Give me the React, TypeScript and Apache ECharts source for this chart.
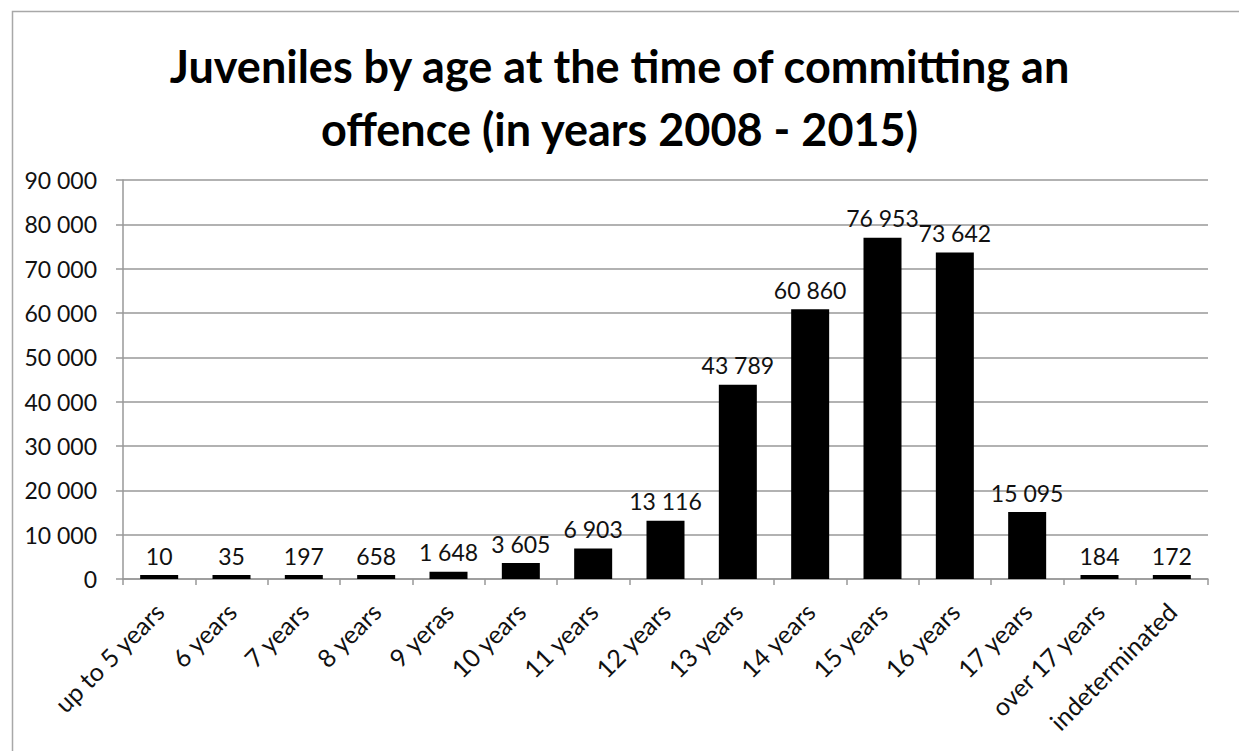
import React, { useEffect, useRef } from "react";
import * as echarts from "echarts";

const categories = [
  "up to 5 years", "6 years", "7 years", "8 years", "9 yeras", "10 years", "11 years",
  "12 years", "13 years", "14 years", "15 years", "16 years", "17 years", "over 17 years", "indeterminated",
];
const values = [10, 35, 197, 658, 1648, 3605, 6903, 13116, 43789, 60860, 76953, 73642, 15095, 184, 172];
const titleLines = ["Juveniles by age at the time of committing an", "offence (in years 2008 - 2015)"];

const fmt = (v: number) => String(Math.round(v)).replace(/\B(?=(\d{3})+(?!\d))/g, " ");

export default function App() {
  const ref = useRef<HTMLDivElement>(null);
  useEffect(() => {
    document.body.style.margin = "0";
    const chart = echarts.init(ref.current!, null, { renderer: "svg" });
    const font = "Lato, 'Open Sans', sans-serif";
    chart.setOption({
      animation: false,
      backgroundColor: "#fff",
      title: {
        text: titleLines.join("\n"),
        left: "center",
        top: 29,
        textStyle: { fontFamily: font, fontWeight: "bold", fontSize: 45, lineHeight: 63, color: "#000" },
      },
      graphic: [
        {
          type: "rect",
          left: 10,
          top: 9,
          shape: { width: 1300, height: 800 },
          style: { fill: "none", stroke: "#a8a8a8", lineWidth: 1.5 },
          silent: true,
        },
      ],
      grid: { left: 123, right: 31, top: 180, bottom: 172, containLabel: false },
      xAxis: {
        type: "category",
        data: categories,
        axisLine: { lineStyle: { color: "#999", width: 1.5 } },
        axisTick: { show: true, length: 6, alignWithLabel: false, lineStyle: { color: "#999", width: 1.5 } },
        axisLabel: {
          rotate: 45,
          interval: 0,
          margin: 28,
          fontFamily: font,
          fontSize: 25,
          color: "#111",
        },
      },
      yAxis: {
        type: "value",
        min: 0,
        max: 90000,
        interval: 10000,
        axisLine: { show: true, lineStyle: { color: "#999", width: 1.5 } },
        axisTick: { show: true, length: 7, lineStyle: { color: "#999", width: 1.5 } },
        splitLine: { lineStyle: { color: "#999", width: 1.5 } },
        axisLabel: {
          formatter: (v: number) => fmt(v),
          margin: 26,
          fontFamily: font,
          fontSize: 23,
          color: "#111",
        },
      },
      series: [
        {
          type: "bar",
          data: values,
          barWidth: 38,
          barMinHeight: 4,
          itemStyle: { color: "#000" },
          label: {
            show: true,
            position: "top",
            distance: 8,
            formatter: (p: any) => fmt(p.value),
            fontFamily: font,
            fontSize: 23,
            color: "#111",
          },
        },
      ],
    });
    return () => chart.dispose();
  }, []);
  return <div ref={ref} style={{ width: 1239, height: 751 }} />;
}
